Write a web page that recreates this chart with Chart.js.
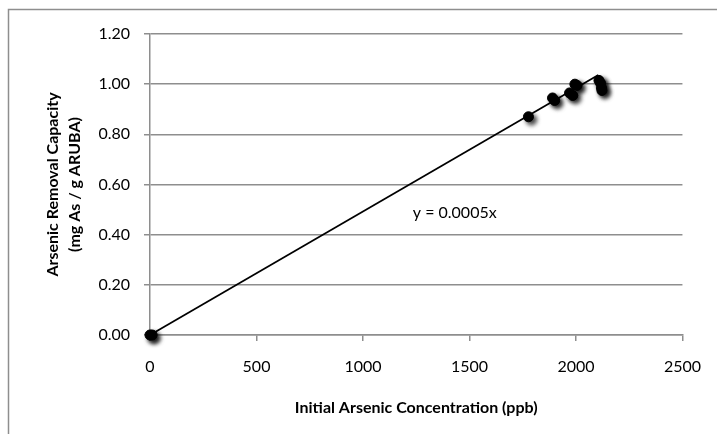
<!DOCTYPE html>
<html>
<head>
<meta charset="utf-8">
<script src="https://cdn.jsdelivr.net/npm/chart.js@4.4.1/dist/chart.umd.min.js"></script>
<style>
  html, body { margin: 0; padding: 0; background: #fff; }
  #grafico { display: block; }
</style>
</head>
<body>
<canvas id="grafico" width="717" height="434"></canvas>
<script>
// concentracao inicial (ppb) e capacidade de remocao (mg As / g ARUBA)
const concentracoes = [0, 10, 1777, 1890, 1900, 1970, 1985, 1995, 2005, 2108, 2115, 2120, 2122];
const capacidades   = [0.00, 0.00, 0.87, 0.945, 0.935, 0.965, 0.955, 1.00, 0.995, 1.015, 1.005, 0.985, 0.975];

// linha de tendencia
const tendenciaX = [0, 2105];
const tendenciaY = [0, 1.037];
const equacao = "y = 0.0005x";

const ticksY = [0, 0.2, 0.4, 0.6, 0.8, 1.0, 1.2];
const ticksX = [0, 500, 1000, 1500, 2000, 2500];

const fonte = "Lato, 'Noto Sans', sans-serif";
const cinza = "#8e8e8e";

const moldura = {
    id: "moldura",
    beforeDraw(chart) {
        const ctx = chart.ctx;
        ctx.save();
        ctx.fillStyle = "#fff";
        ctx.fillRect(0, 0, chart.width, chart.height);
        ctx.strokeStyle = cinza;
        ctx.lineWidth = 1.5;
        ctx.beginPath();
        ctx.moveTo(8.5, chart.height);
        ctx.lineTo(8.5, 9.5);
        ctx.lineTo(chart.width, 9.5);
        ctx.stroke();
        ctx.restore();
    }
};

const sombra = {
    id: "sombra",
    beforeDatasetDraw(chart, args) {
        if (args.index !== 0) return;
        const ctx = chart.ctx;
        ctx.save();
        ctx.shadowColor = "rgba(0,0,0,0.75)";
        ctx.shadowBlur = 4;
        ctx.shadowOffsetX = 3;
        ctx.shadowOffsetY = 3;
    },
    afterDatasetDraw(chart, args) {
        if (args.index !== 0) return;
        chart.ctx.restore();
    }
};

const rotuloEquacao = {
    id: "rotuloEquacao",
    afterDatasetsDraw(chart) {
        const ctx = chart.ctx;
        const x = chart.scales.x.getPixelForValue(1234);
        const y = chart.scales.y.getPixelForValue(0.486);
        ctx.save();
        ctx.fillStyle = "#000";
        ctx.font = "16px " + fonte;
        ctx.textAlign = "left";
        ctx.textBaseline = "middle";
        ctx.fillText(equacao, x, y);
        ctx.restore();
    }
};

function desenharGrafico() {
    const ctx = document.getElementById("grafico").getContext("2d");
    new Chart(ctx, {
        type: "scatter",
        data: {
            datasets: [{
                data: concentracoes.map((c, i) => ({ x: c, y: capacidades[i] })),
                backgroundColor: "#000",
                borderColor: "#000",
                pointRadius: 5,
                pointHoverRadius: 5,
                clip: false
            }, {
                type: "line",
                data: tendenciaX.map((c, i) => ({ x: c, y: tendenciaY[i] })),
                borderColor: "#000",
                borderWidth: 1.75,
                pointRadius: 0,
                fill: false
            }]
        },
        options: {
            responsive: false,
            animation: false,
            events: [],
            layout: { padding: { left: 30, top: 34, right: 30, bottom: 13 } },
            plugins: {
                legend: { display: false },
                tooltip: { enabled: false }
            },
            scales: {
                x: {
                    type: "linear",
                    min: 0,
                    max: 2500,
                    afterBuildTicks: s => { s.ticks = ticksX.map(v => ({ value: v })); },
                    afterFit: s => { s.height = 86; },
                    border: { color: cinza, width: 1.5 },
                    grid: { drawOnChartArea: false, drawTicks: true, tickLength: 6, color: cinza, lineWidth: 1.5 },
                    ticks: {
                        color: "#000",
                        padding: 16,
                        font: { family: fonte, size: 16 },
                        callback: v => v
                    },
                    title: {
                        display: true,
                        text: "Initial Arsenic Concentration (ppb)",
                        color: "#000",
                        padding: { top: 4, bottom: 4 },
                        font: { family: fonte, size: 16, weight: "bold" }
                    }
                },
                y: {
                    min: 0,
                    max: 1.2,
                    afterBuildTicks: s => { s.ticks = ticksY.map(v => ({ value: v })); },
                    afterFit: s => { s.width = 120; },
                    border: { color: cinza, width: 1.5 },
                    grid: { color: cinza, lineWidth: 1.5, tickLength: 6 },
                    ticks: {
                        color: "#000",
                        padding: 14,
                        font: { family: fonte, size: 16 },
                        callback: v => Number(v).toFixed(2)
                    },
                    title: {
                        display: true,
                        text: ["Arsenic Removal Capacity", "(mg As / g ARUBA)"],
                        color: "#000",
                        padding: { top: 12, bottom: 0 },
                        font: { family: fonte, size: 16, weight: "bold", lineHeight: 1.375 }
                    }
                }
            }
        },
        plugins: [moldura, sombra, rotuloEquacao]
    });
}

window.onload = desenharGrafico;
</script>
</body>
</html>
